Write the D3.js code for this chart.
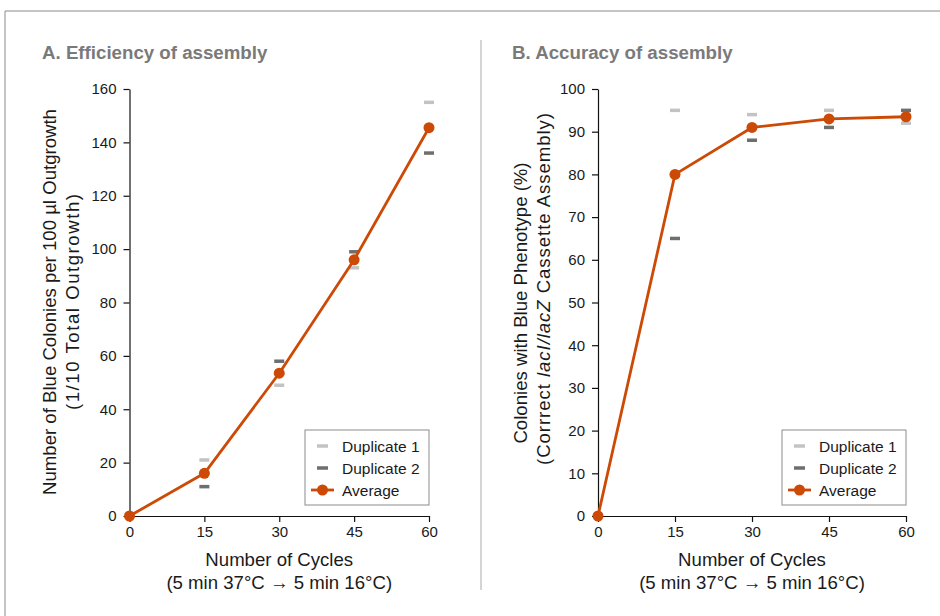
<!DOCTYPE html>
<html><head><meta charset="utf-8">
<script src="https://cdn.jsdelivr.net/npm/d3@7"></script>
<style>
body{margin:0;background:#fff;}
svg{display:block;font-family:"Liberation Sans",Arial,Helvetica,sans-serif;}
</style></head>
<body>
<svg id="chart" width="940" height="616"></svg>
<script>
const cycles = [0, 15, 30, 45, 60];
const xTicks = [0, 15, 30, 45, 60];
// Panel A: Efficiency
const effDup1 = [0, 21, 49, 93, 155];
const effDup2 = [0, 11, 58, 99, 136];
const effAvg  = [0, 16, 53.5, 96, 145.5];
const effTicks = [0, 20, 40, 60, 80, 100, 120, 140, 160];
// Panel B: Accuracy
const accDup1 = [null, 95, 94, 95, 92];
const accDup2 = [null, 65, 88, 91, 95];
const accAvg  = [0, 80, 91, 93, 93.5];
const accTicks = [0, 10, 20, 30, 40, 50, 60, 70, 80, 90, 100];
const legendLabels = ["Duplicate 1", "Duplicate 2", "Average"];

const colDup1 = "#c3c3c3", colDup2 = "#6e6e6e", colAvg = "#cc4a05";
const svg = d3.select("#chart");

// outer frame
svg.append("path").attr("d","M5,616 L5,11 L940,11").attr("fill","none").attr("stroke","#8a8a8a").attr("stroke-width",1);
// divider
svg.append("line").attr("x1",481).attr("x2",481).attr("y1",40).attr("y2",590).attr("stroke","#aaa").attr("stroke-width",1);

function panel(opts){
  const g = svg.append("g");
  const x = d3.scaleLinear().domain([0,60]).range([opts.x0, opts.x1]);
  const y = d3.scaleLinear().domain([0, opts.ymax]).range([516, 89]);

  g.append("text").attr("x", opts.titleX).attr("y", 58.5).attr("fill","#7a7a7a")
    .attr("font-size",18.7).attr("font-weight","bold").text(opts.title);

  const ya = g.append("g").attr("transform",`translate(${opts.x0},0)`)
    .call(d3.axisLeft(y).tickValues(opts.yTicks).tickSize(6).tickPadding(7).tickSizeOuter(0));
  const xa = g.append("g").attr("transform",`translate(0,516)`)
    .call(d3.axisBottom(x).tickValues(xTicks).tickSize(6).tickPadding(4).tickSizeOuter(0));
  [ya, xa].forEach(a=>{
    a.selectAll("path,line").attr("stroke","#111").attr("stroke-width",1.2);
    a.selectAll("text").attr("font-size",15).attr("fill","#1a1a1a").attr("font-family","Liberation Sans, Arial, sans-serif");
  });

  // x label
  const cx = (opts.x0+opts.x1)/2;
  g.append("text").attr("x",cx).attr("y",565.5).attr("text-anchor","middle").attr("font-size",18.6).attr("fill","#1a1a1a").text("Number of Cycles");
  g.append("text").attr("x",cx).attr("y",588.5).attr("text-anchor","middle").attr("font-size",18.6).attr("fill","#1a1a1a").text("(5 min 37°C \u2192 5 min 16°C)");

  // y label
  const yl1 = g.append("text").attr("transform",`translate(${opts.yl1x},${opts.yl1y}) rotate(-90)`).attr("text-anchor","middle").attr("font-size",18.6).attr("fill","#1a1a1a");
  opts.ylab1(yl1);
  const yl2 = g.append("text").attr("transform",`translate(${opts.yl2x},${opts.yl2y}) rotate(-90)`).attr("text-anchor","middle").attr("font-size",18.6).attr("fill","#1a1a1a")
    .attr("textLength", opts.yl2len).attr("lengthAdjust","spacing");
  opts.ylab2(yl2);

  // duplicates
  const dupData = (arr,c)=>cycles.map((cyc,i)=>({c:cyc,v:arr[i],col:c})).filter(d=>d.v!==null && d.c>0);
  [[opts.d1,colDup1],[opts.d2,colDup2]].forEach(([arr,col])=>{
    g.selectAll(null).data(dupData(arr,col)).enter().append("line")
      .attr("x1",d=>x(d.c)-5).attr("x2",d=>x(d.c)+5)
      .attr("y1",d=>y(d.v)).attr("y2",d=>y(d.v))
      .attr("stroke",col).attr("stroke-width",3.5);
  });

  const avgData = cycles.map((c,i)=>({c, v:opts.avg[i]}));
  g.append("path").datum(avgData).attr("fill","none").attr("stroke",colAvg).attr("stroke-width",2.8)
    .attr("stroke-linejoin","round")
    .attr("d", d3.line().x(d=>x(d.c)).y(d=>y(d.v)));
  g.selectAll(null).data(avgData).enter().append("circle")
    .attr("cx",d=>x(d.c)).attr("cy",d=>y(d.v)).attr("r",5.5).attr("fill",colAvg);

  // legend
  const lx = opts.x1-124, ly = 430;
  const lg = g.append("g").attr("transform",`translate(${lx},${ly})`);
  lg.append("rect").attr("x",0).attr("y",0).attr("width",124).attr("height",75).attr("fill","#fff").attr("stroke","#8c8c8c").attr("stroke-width",1);
  legendLabels.forEach((lab,i)=>{
    const yy = 16 + i*22;
    if(i<2){
      lg.append("line").attr("x1",12).attr("x2",23).attr("y1",yy).attr("y2",yy).attr("stroke",i===0?colDup1:colDup2).attr("stroke-width",3.5);
    } else {
      lg.append("line").attr("x1",6).attr("x2",29).attr("y1",yy).attr("y2",yy).attr("stroke",colAvg).attr("stroke-width",2.8);
      lg.append("circle").attr("cx",17.5).attr("cy",yy).attr("r",5.5).attr("fill",colAvg);
    }
    lg.append("text").attr("x",37).attr("y",yy+5.5).attr("font-size",15.5).attr("fill","#1a1a1a").text(lab);
  });
}

panel({
  title:"A. Efficiency of assembly", titleX:42,
  x0:129.5, x1:429, ymax:160, yTicks:effTicks,
  d1:effDup1, d2:effDup2, avg:effAvg,
  yl1x:56, yl1y:302, yl2x:79, yl2y:302, yl2len:216,
  ylab1:t=>t.text("Number of Blue Colonies per 100 \u00b5l Outgrowth"),
  ylab2:t=>t.text("(1/10 Total Outgrowth)")
});
panel({
  title:"B. Accuracy of assembly", titleX:512,
  x0:598, x1:906, ymax:100, yTicks:accTicks,
  d1:accDup1, d2:accDup2, avg:accAvg,
  yl1x:527, yl1y:303, yl2x:550, yl2y:289, yl2len:352,
  ylab1:t=>t.text("Colonies with Blue Phenotype (%)"),
  ylab2:t=>{
    t.append("tspan").text("(Corrrect ");
    t.append("tspan").attr("font-style","italic").text("lacI/lacZ");
    t.append("tspan").text(" Cassette Assembly)");
  }
});
</script>
</body></html>
